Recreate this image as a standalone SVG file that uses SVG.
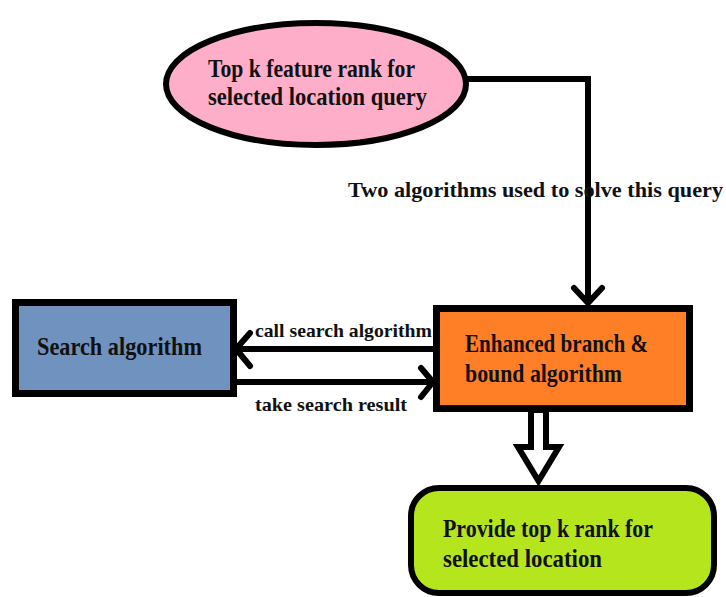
<svg xmlns="http://www.w3.org/2000/svg" width="726" height="597" viewBox="0 0 726 597">
<style>
.t{font-family:"Liberation Serif","Times New Roman",serif;font-weight:bold;fill:#111;}
.big{font-size:25px;}
.mid{font-size:22px;}
.sm{font-size:19px;}
.ln{fill:none;stroke:#000;stroke-width:6;stroke-linejoin:miter;}
.hd{fill:none;stroke:#000;stroke-width:6;stroke-linecap:round;stroke-linejoin:round;}
.box{stroke:#000;stroke-width:7;}
</style>
<rect width="726" height="597" fill="#fff"/>
<g id="connectors">
  <path class="ln" d="M466,79 H588 V303"/>
  <path class="hd" d="M574,288 L588,303 L602,288"/>
  <path class="ln" d="M438,349 H238"/>
  <circle cx="438" cy="349" r="4" fill="#000"/>
  <path class="hd" d="M250,333 L236,349 L250,366"/>
  <path class="ln" d="M237,382 H431"/>
  <path class="hd" d="M421,368 L433,382 L421,397"/>
  <polygon points="531,410 546,410 546,447 559,447 538.5,481 518,447 531,447" fill="#fff" stroke="#000" stroke-width="6" stroke-linejoin="miter"/>
  <text class="t sm" x="255" y="337" textLength="177" lengthAdjust="spacingAndGlyphs">call search algorithm</text>
  <text class="t sm" x="255" y="411" textLength="152" lengthAdjust="spacingAndGlyphs">take search result</text>
  <text class="t mid" x="348" y="197" textLength="375" lengthAdjust="spacingAndGlyphs">Two algorithms used to solve this query</text>
</g>
<g id="query">
  <ellipse cx="316" cy="84" rx="150" ry="61" fill="#FFAEC9" stroke="#000" stroke-width="6"/>
  <text class="t big" x="208" y="77" textLength="207" lengthAdjust="spacingAndGlyphs">Top k feature rank for</text>
  <text class="t big" x="208" y="105" textLength="219" lengthAdjust="spacingAndGlyphs">selected location query</text>
</g>
<g id="search">
  <rect class="box" x="15.5" y="302.5" width="218" height="91" fill="#7092BE"/>
  <text class="t big" x="37" y="355" textLength="165" lengthAdjust="spacingAndGlyphs">Search algorithm</text>
</g>
<g id="branch">
  <rect class="box" x="436.5" y="308.5" width="253" height="100" fill="#FF7F27"/>
  <text class="t big" x="465" y="352" textLength="183" lengthAdjust="spacingAndGlyphs">Enhanced branch &amp;</text>
  <text class="t big" x="465" y="382" textLength="157" lengthAdjust="spacingAndGlyphs">bound algorithm</text>
</g>
<g id="result">
  <rect x="411" y="488" width="303" height="105" rx="28" ry="28" fill="#B5E61D" stroke="#000" stroke-width="6"/>
  <text class="t big" x="443" y="537" textLength="210" lengthAdjust="spacingAndGlyphs">Provide top k rank for</text>
  <text class="t big" x="443" y="567" textLength="159" lengthAdjust="spacingAndGlyphs">selected location</text>
</g>
</svg>
